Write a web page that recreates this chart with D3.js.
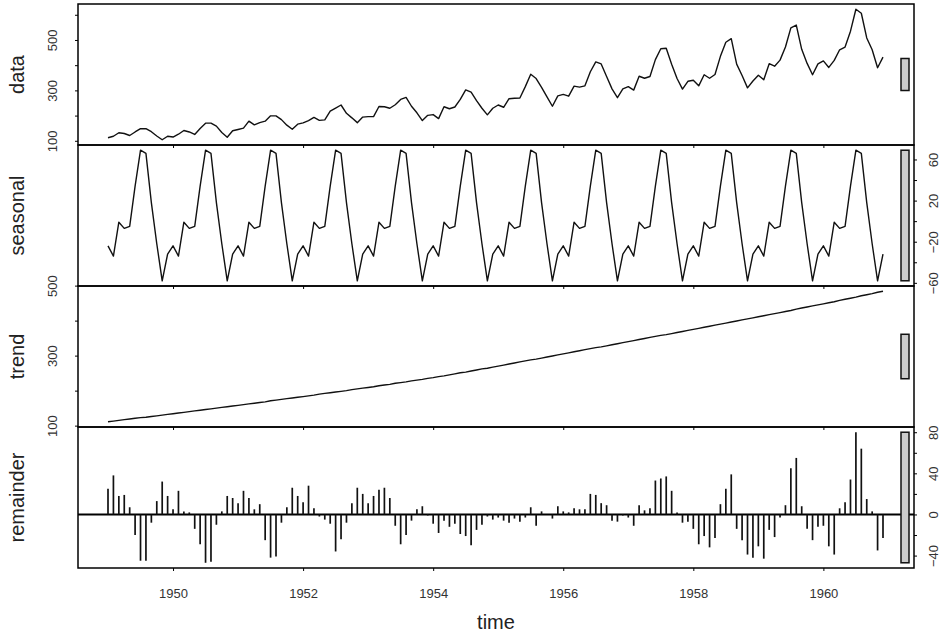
<!DOCTYPE html>
<html>
<head>
<meta charset="utf-8">
<script src="https://cdn.jsdelivr.net/npm/d3@7"></script>
<style>
  body { margin: 0; background: #fff; }
  svg { display: block; font-family: "Liberation Sans", Arial, sans-serif; }
</style>
</head>
<body>
<svg id="chart" width="940" height="635"></svg>
<script>
// monthly series, Jan 1949 .. Dec 1960
var startYear = 1949;

var passengers = [
  112, 118, 132, 129, 121, 135, 148, 148, 136, 119, 104, 118,
  115, 126, 141, 135, 125, 149, 170, 170, 158, 133, 114, 140,
  145, 150, 178, 163, 172, 178, 199, 199, 184, 162, 146, 166,
  171, 180, 193, 181, 183, 218, 230, 242, 209, 191, 172, 194,
  196, 196, 236, 235, 229, 243, 264, 272, 237, 211, 180, 201,
  204, 188, 235, 227, 234, 264, 302, 293, 259, 229, 203, 229,
  242, 233, 267, 269, 270, 315, 364, 347, 312, 274, 237, 278,
  284, 277, 317, 313, 318, 374, 413, 405, 355, 306, 271, 306,
  315, 301, 356, 348, 355, 422, 465, 467, 404, 347, 305, 336,
  340, 318, 362, 348, 363, 435, 491, 505, 404, 359, 310, 337,
  360, 342, 406, 396, 420, 472, 548, 559, 463, 407, 362, 405,
  417, 391, 419, 461, 472, 535, 622, 606, 508, 461, 390, 432
];

// periodic seasonal component, one value per calendar month
var seasonalByMonth = [-24, -34, -1, -7, -5, 34, 69, 66, 18, -22, -58, -32];

var trendValues = [
  111, 113, 115, 117, 119, 121, 123, 124, 126, 128, 130, 132,
  134, 136, 138, 140, 142, 144, 146, 148, 150, 152, 154, 156,
  158, 160, 162, 164, 166, 168, 171, 173, 175, 177, 179, 181,
  183, 185, 187, 190, 192, 194, 196, 198, 200, 203, 205, 207,
  209, 211, 214, 216, 218, 221, 223, 225, 228, 230, 232, 235,
  237, 240, 242, 245, 248, 251, 253, 256, 259, 262, 264, 267,
  270, 273, 276, 279, 282, 285, 288, 290, 293, 296, 299, 302,
  305, 308, 311, 314, 317, 320, 323, 325, 328, 331, 334, 337,
  340, 343, 346, 349, 352, 355, 358, 360, 363, 366, 369, 372,
  375, 378, 381, 384, 387, 390, 393, 396, 399, 402, 405, 408,
  411, 414, 417, 420, 423, 426, 429, 433, 436, 439, 442, 445,
  448, 451, 454, 458, 461, 464, 467, 471, 474, 477, 481, 484
];

var remainderValues = [
   25,  38,  18,  19,   7, -20, -45, -45,  -8,  13,  32,  18,
    5,  23,   3,   2, -14, -29, -47, -46, -10,   3,  18,  16,
   11,  23,  16,   5,  10, -25, -42, -41,  -8,   7,  26,  18,
   12,  28,   6,  -2,  -5,  -9, -36, -24,  -8,  11,  26,  20,
   11,  18,  24,  26,  16, -11, -29, -20,  -6,   5,   8,  -1,
   -9, -18,  -6, -12,  -9, -19, -21, -30, -15, -10,  -2,  -5,
   -3,  -6,  -8,  -4,  -7,  -3,   7, -11,   3,   0,  -4,   8,
    3,   2,   6,   5,   5,  20,  19,  11,   9,  -6,  -7,  -1,
   -3, -11,   9,   4,   6,  33,  35,  37,  23,   2,  -8,  -7,
  -14, -29, -21, -32, -23,  10,  25,  39, -14, -25, -39, -42,
  -31, -43, -15, -22,  -3,   9,  45,  55,   8, -14, -25, -12,
  -11, -31, -39,   6,  12,  34,  80,  64,  15,   3, -35, -23
];

var yearTicks = [1950, 1952, 1954, 1956, 1958, 1960];
var panelNames = ["data", "seasonal", "trend", "remainder"];
var panelTicks = [
  [100, 200, 300, 400, 500, 600],
  [-60, -40, -20, 0, 20, 40, 60],
  [100, 200, 300, 400, 500],
  [-40, -20, 0, 20, 40, 60, 80]
];
var panelLabels = [
  [100, 300, 500],
  [-60, -20, 20, 60],
  [100, 300, 500],
  [-40, 0, 40, 80]
];
var axisSide = ["left", "right", "left", "right"];

var svg = d3.select("#chart");

var frameLeft = 78, frameRight = 914;
var panelTop = 4, panelHeight = 141;

var times = passengers.map((d, i) => startYear + i / 12);
var seasonalValues = passengers.map((d, i) => seasonalByMonth[i % 12]);
var series = [passengers, seasonalValues, trendValues, remainderValues];

var x = d3.scaleLinear()
  .domain([times[0], times[times.length - 1]])
  .range([108, 883]);

// range bars: same height in data units on every panel
var ranges = series.map(s => d3.extent(s));
var barSize = d3.min(ranges, r => r[1] - r[0]);

series.forEach(function (values, p) {
  var top = panelTop + p * panelHeight;
  var ext = ranges[p];
  var pad = 0.04 * (ext[1] - ext[0]);
  var y = d3.scaleLinear()
    .domain([ext[0] - pad, ext[1] + pad])
    .range([top + panelHeight, top]);

  var g = svg.append("g");

  if (p < 3) {
    var line = d3.line()
      .x((d, i) => x(times[i]))
      .y(d => y(d));
    g.append("path")
      .datum(values)
      .attr("fill", "none")
      .attr("stroke", "#111")
      .attr("stroke-width", 1.4)
      .attr("stroke-linejoin", "round")
      .attr("d", line);
  } else {
    g.append("line")
      .attr("x1", frameLeft).attr("x2", frameRight)
      .attr("y1", y(0)).attr("y2", y(0))
      .attr("stroke", "#000")
      .attr("stroke-width", 2);
    g.selectAll(".rbar")
      .data(values)
      .enter()
      .append("line")
      .attr("class", "rbar")
      .attr("x1", (d, i) => x(times[i]))
      .attr("x2", (d, i) => x(times[i]))
      .attr("y1", y(0))
      .attr("y2", d => y(d))
      .attr("stroke", "#111")
      .attr("stroke-width", 1.7);
  }

  // grey range bar
  var mid = (ext[0] + ext[1]) / 2;
  g.append("rect")
    .attr("x", 901)
    .attr("width", 8)
    .attr("y", y(mid + barSize / 2))
    .attr("height", y(mid - barSize / 2) - y(mid + barSize / 2))
    .attr("fill", "#cccccc")
    .attr("stroke", "#111")
    .attr("stroke-width", 1.5);

  // y axis
  var labelSet = panelLabels[p];
  var yAxis = (axisSide[p] == "left" ? d3.axisLeft(y) : d3.axisRight(y))
    .tickValues(panelTicks[p])
    .tickSize(3)
    .tickFormat(d => labelSet.indexOf(d) >= 0 ? d3.format("d")(d).replace("-", "\u2212") : "");
  var ax = g.append("g")
    .attr("transform", `translate(${axisSide[p] == "left" ? frameLeft : frameRight},0)`)
    .call(yAxis);
  ax.select(".domain").remove();
  ax.selectAll(".tick line").attr("stroke", "#000");
  ax.selectAll(".tick text")
    .attr("x", null)
    .attr("dy", null)
    .attr("fill", "#333")
    .style("font-size", "13px")
    .attr("text-anchor", "middle")
    .attr("dominant-baseline", "central")
    .attr("transform", axisSide[p] == "left" ? "translate(-26,0) rotate(-90)" : "translate(19,0) rotate(-90)");

  // x axis ticks below every panel, labels only on the last one
  var xAxis = d3.axisBottom(x)
    .tickValues(yearTicks)
    .tickSize(3)
    .tickFormat(p == 3 ? d3.format("d") : () => "");
  var xa = g.append("g")
    .attr("transform", `translate(0,${top + panelHeight})`)
    .call(xAxis);
  xa.select(".domain").remove();
  xa.selectAll(".tick line").attr("stroke", "#000");
  xa.selectAll(".tick text")
    .attr("y", 25)
    .attr("dy", "0.35em")
    .attr("fill", "#333")
    .style("font-size", "13px");

  // panel name
  g.append("text")
    .attr("transform", `translate(17,${top + panelHeight / 2}) rotate(-90)`)
    .attr("text-anchor", "middle")
    .attr("dominant-baseline", "central")
    .attr("fill", "#222")
    .style("font-size", "20px")
    .text(panelNames[p]);

  // frame
  g.append("rect")
    .attr("x", frameLeft)
    .attr("y", top)
    .attr("width", frameRight - frameLeft)
    .attr("height", panelHeight)
    .attr("fill", "none")
    .attr("stroke", "#000")
    .attr("stroke-width", 1.5);
});

svg.append("text")
  .attr("x", (frameLeft + frameRight) / 2)
  .attr("y", 622)
  .attr("text-anchor", "middle")
  .attr("dominant-baseline", "central")
  .attr("fill", "#222")
  .style("font-size", "20px")
  .text("time");
</script>
</body>
</html>
